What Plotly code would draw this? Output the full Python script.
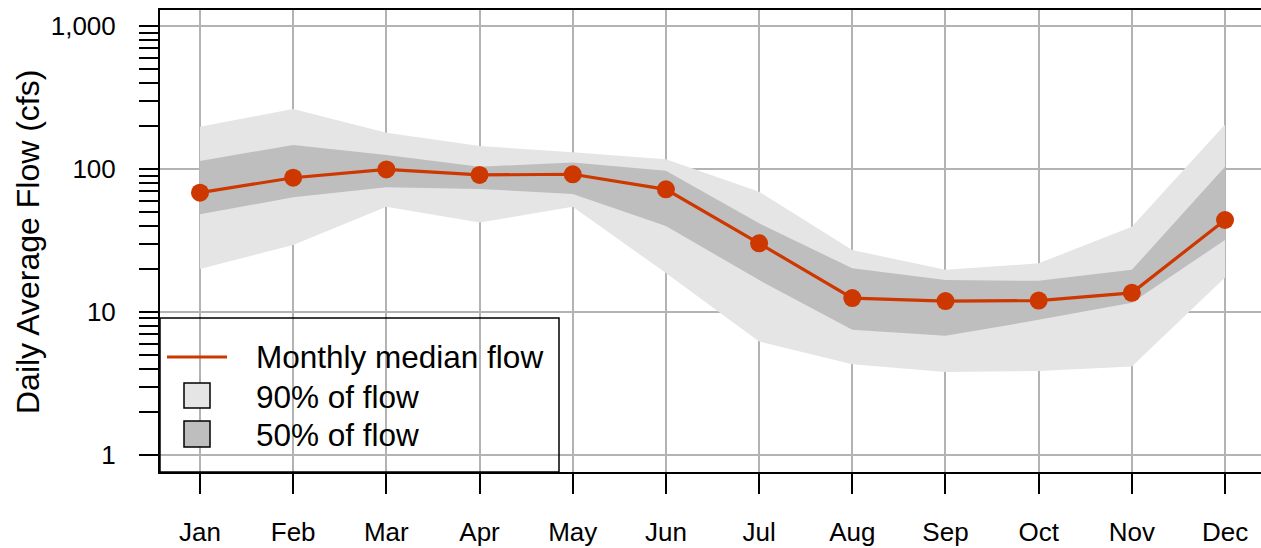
import plotly.graph_objects as go

months = ["Jan", "Feb", "Mar", "Apr", "May", "Jun", "Jul", "Aug", "Sep", "Oct", "Nov", "Dec"]
median_flow = [68.4, 87, 99.5, 91, 92, 72.2, 30.2, 12.5, 11.9, 12.0, 13.6, 44]
upper_90 = [198, 264, 180, 145, 131, 117, 69.5, 27.1, 19.7, 21.9, 39.4, 205]
lower_90 = [20, 29.4, 54.5, 42.2, 54.5, 18.7, 6.2, 4.3, 3.8, 3.86, 4.15, 17.4]
upper_50 = [114, 147.5, 125.5, 104, 111, 97.5, 41.7, 20.2, 16.7, 16.5, 19.7, 104]
lower_50 = [48.2, 63.5, 74.6, 72.6, 67, 40, 16.7, 7.5, 6.8, 8.8, 11.6, 31.9]

y_tickvals = [1, 10, 100, 1000]
y_ticktext = ["1", "10", "100", "1,000"]
y_minor = [m * d for d in (1, 10, 100) for m in range(2, 10)]

RED = "#cd3700"
LIGHT = "#e5e5e5"
DARK = "#bebebe"
FONT = "Liberation Sans, Arial, Helvetica, sans-serif"

fig = go.Figure()
fig.add_trace(go.Scatter(x=months, y=lower_90, mode="lines", line=dict(width=0),
                         showlegend=False, hoverinfo="skip"))
fig.add_trace(go.Scatter(x=months, y=upper_90, mode="lines", line=dict(width=0),
                         fill="tonexty", fillcolor=LIGHT, showlegend=False, hoverinfo="skip"))
fig.add_trace(go.Scatter(x=months, y=lower_50, mode="lines", line=dict(width=0),
                         showlegend=False, hoverinfo="skip"))
fig.add_trace(go.Scatter(x=months, y=upper_50, mode="lines", line=dict(width=0),
                         fill="tonexty", fillcolor=DARK, showlegend=False, hoverinfo="skip"))
fig.add_trace(go.Scatter(x=months, y=median_flow, mode="lines+markers",
                         line=dict(color=RED, width=3.2),
                         marker=dict(color=RED, size=18),
                         showlegend=False))

W, H = 1261, 548
L, R, T, B = 160, 0, 10, 76
pw, ph = W - L - R, H - T - B

def px(x):
    return (x - L) / pw

def py(y):
    return (H - B - y) / ph

shapes = []
# legend box
shapes.append(dict(type="rect", xref="paper", yref="paper",
                   x0=px(160), x1=px(559), y0=py(472), y1=py(318),
                   line=dict(color="black", width=1.5), fillcolor="rgba(0,0,0,0)"))
shapes.append(dict(type="line", xref="paper", yref="paper",
                   x0=px(167), x1=px(227), y0=py(357), y1=py(357),
                   line=dict(color=RED, width=3.2)))
shapes.append(dict(type="rect", xref="paper", yref="paper",
                   x0=px(184), x1=px(210), y0=py(408), y1=py(383),
                   line=dict(color="black", width=1.5), fillcolor=LIGHT))
shapes.append(dict(type="rect", xref="paper", yref="paper",
                   x0=px(184), x1=px(210), y0=py(447), y1=py(421),
                   line=dict(color="black", width=1.5), fillcolor=DARK))

annotations = []
for txt, yy in [("Monthly median flow", 357), ("90% of flow", 397), ("50% of flow", 435)]:
    annotations.append(dict(text=txt, xref="paper", yref="paper", x=px(254), y=py(yy),
                            xanchor="left", yanchor="middle", showarrow=False,
                            font=dict(family=FONT, size=31.5, color="black")))
annotations.append(dict(text="Daily Average Flow (cfs)", xref="paper", yref="paper",
                        x=px(28), y=py(242), textangle=-90, xanchor="center", yanchor="middle",
                        showarrow=False, font=dict(family=FONT, size=32, color="black")))

fig.update_layout(
    width=W, height=H,
    margin=dict(l=L, r=R, t=T, b=B),
    paper_bgcolor="white", plot_bgcolor="white",
    font=dict(family=FONT, size=26, color="black"),
    shapes=shapes, annotations=annotations,
    showlegend=False,
)
fig.update_xaxes(
    type="category", range=[-0.429, 11.386],
    showgrid=True, gridcolor="#b3b3b3", gridwidth=1.5,
    showline=True, linecolor="black", linewidth=2, mirror=True,
    ticks="outside", ticklen=20, tickwidth=2, tickcolor="black",
    ticklabelstandoff=16, tickfont=dict(size=26), zeroline=False,
)
fig.update_yaxes(
    type="log", range=[-0.121, 3.114],
    tickmode="array", tickvals=y_tickvals, ticktext=y_ticktext,
    showgrid=True, gridcolor="#b3b3b3", gridwidth=1.5,
    showline=True, linecolor="black", linewidth=2,
    ticks="outside", ticklen=19, tickwidth=2, tickcolor="black",
    ticklabelstandoff=18, tickfont=dict(size=26), zeroline=False,
    minor=dict(tickmode="array", tickvals=y_minor, ticks="outside", ticklen=19,
               tickwidth=2, tickcolor="black", showgrid=False),
)

fig.write_html("out.html", config={"displayModeBar": False},
               post_script="document.body.style.margin='0';")
